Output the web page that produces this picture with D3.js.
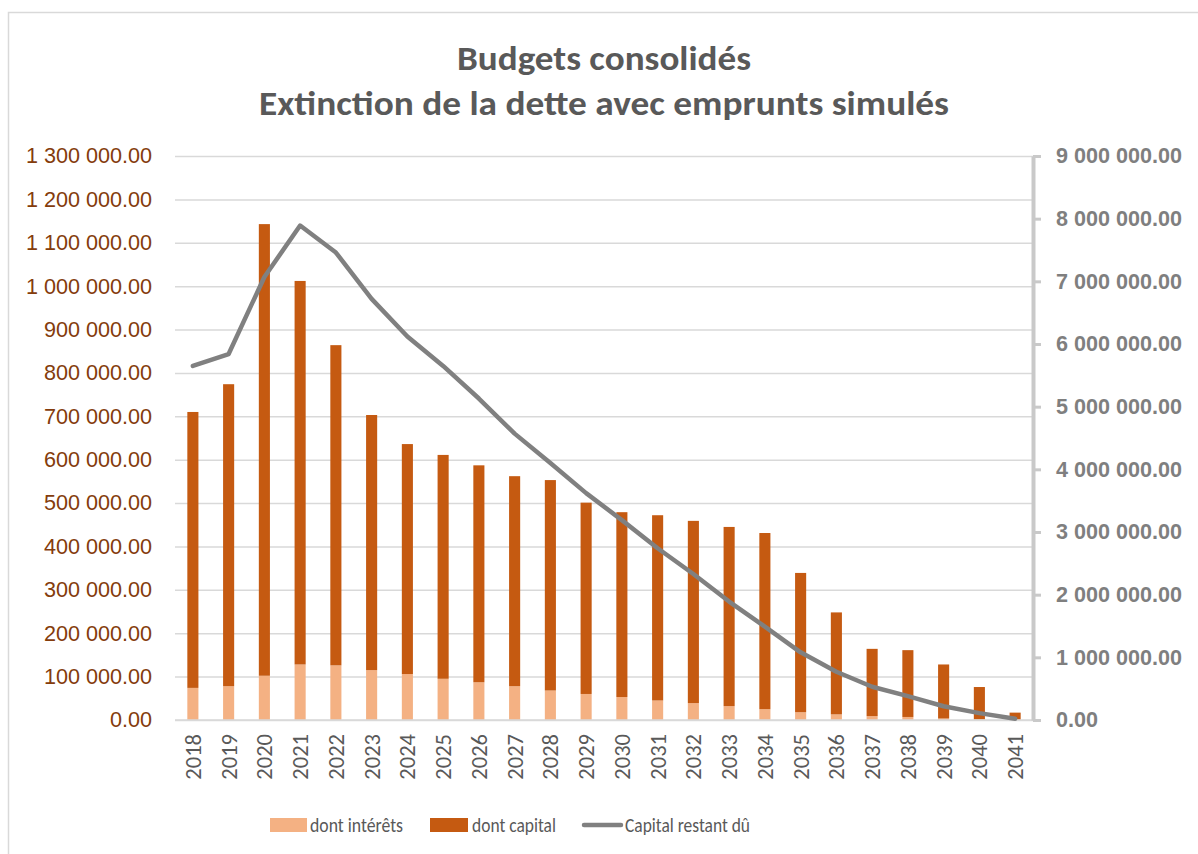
<!DOCTYPE html>
<html lang="fr">
<head>
<meta charset="utf-8">
<script src="https://cdn.jsdelivr.net/npm/d3@7"></script>
<style>
  html, body { margin: 0; padding: 0; background: #fff; }
  svg { display: block; font-family: Carlito, Lato, "Open Sans", sans-serif; }
</style>
</head>
<body>
<svg id="chart" width="1198" height="854"></svg>
<script>
// données
const years = ["2018", "2019", "2020", "2021", "2022", "2023", "2024", "2025", "2026", "2027", "2028", "2029",
  "2030", "2031", "2032", "2033", "2034", "2035", "2036", "2037", "2038", "2039", "2040", "2041"];

const interets = [74000, 78000, 102000, 128000, 126000, 115000, 106000, 95000, 87000, 78000, 68000, 60000,
  53000, 45000, 39000, 32000, 25000, 18000, 13000, 9000, 7000, 3500, 1500, 500];

const capital = [636000, 696000, 1041000, 884000, 738000, 588000, 530000, 516000, 500000, 484000, 485000, 441000,
  426000, 427000, 420000, 413000, 406000, 321000, 235000, 155000, 154000, 124500, 74500, 16500];

const restantDu = [5650000, 5840000, 7070000, 7890000, 7460000, 6720000, 6120000, 5650000, 5130000, 4570000, 4100000, 3620000,
  3190000, 2740000, 2330000, 1890000, 1490000, 1080000, 770000, 530000, 380000, 220000, 110000, 20000];

const leftTicks = d3.range(0, 1300001, 100000);
const rightTicks = d3.range(0, 9000001, 1000000);

const titleLines = ["Budgets consolidés", "Extinction de la dette avec emprunts simulés"];
const legendLabels = ["dont intérêts", "dont capital", "Capital restant dû"];

const colInteret = "#F4B183";
const colCapital = "#C55A11";
const colLine = "#808080";

const svg = d3.select("#chart");
const plotL = 175, plotR = 1033, plotT = 156, plotB = 720;

// cadre
svg.append("rect")
  .attr("x", 8.5).attr("y", 12.5)
  .attr("width", 1300).attr("height", 1000)
  .attr("fill", "none").attr("stroke", "#d9d9d9").attr("stroke-width", 1.5);

// titre (largeur calée sur l'original)
const titleWidths = [294, 690];
svg.append("g").selectAll("text")
  .data(titleLines)
  .join("text")
  .attr("x", (plotL + plotR) / 2)
  .attr("y", (d, i) => 70 + i * 45)
  .attr("text-anchor", "middle")
  .attr("font-size", 34)
  .attr("font-weight", "bold")
  .attr("fill", "#595959")
  .attr("textLength", (d, i) => titleWidths[i])
  .attr("lengthAdjust", "spacingAndGlyphs")
  .text((d) => d);

const fr = d3.formatLocale({ decimal: ".", thousands: " ", grouping: [3], currency: ["", ""] });
const fmt = fr.format(",.2f");

const x = d3.scaleBand().domain(years).range([plotL, plotR]).paddingInner(0.69).paddingOuter(0.345);
const yL = d3.scaleLinear().domain([0, 1300000]).range([plotB, plotT]);
const yR = d3.scaleLinear().domain([0, 9000000]).range([plotB, plotT]);

// grille
svg.append("g")
  .attr("transform", `translate(${plotL},0)`)
  .call(d3.axisLeft(yL).tickValues(leftTicks).tickSize(-(plotR - plotL)).tickFormat(""))
  .call((g) => g.select(".domain").remove())
  .call((g) => g.selectAll("line").attr("stroke", "#d9d9d9").attr("stroke-width", 1.5));

// axe gauche
svg.append("g")
  .attr("transform", `translate(${plotL},0)`)
  .call(d3.axisLeft(yL).tickValues(leftTicks).tickSize(0).tickPadding(23).tickFormat(fmt))
  .call((g) => g.select(".domain").remove())
  .call((g) => g.selectAll("text")
    .attr("font-size", 21.6).attr("fill", "#843C0C").attr("font-family", null));

// barres empilées
const stacked = years.map((yr, i) => ({ year: yr, interet: interets[i], capital: capital[i] }));
const series = d3.stack().keys(["interet", "capital"])(stacked);

svg.append("g").selectAll("g")
  .data(series)
  .join("g")
  .attr("fill", (d) => (d.key === "interet" ? colInteret : colCapital))
  .selectAll("rect")
  .data((d) => d)
  .join("rect")
  .attr("x", (d) => x(d.data.year))
  .attr("width", x.bandwidth())
  .attr("y", (d) => yL(d[1]))
  .attr("height", (d) => yL(d[0]) - yL(d[1]));

// axe bas
svg.append("line")
  .attr("x1", plotL).attr("x2", plotR)
  .attr("y1", plotB).attr("y2", plotB)
  .attr("stroke", "#d9d9d9").attr("stroke-width", 1.5);

svg.append("g").selectAll("text")
  .data(years)
  .join("text")
  .attr("transform", (d) => `translate(${x(d) + x.bandwidth() / 2},734) rotate(-90)`)
  .attr("text-anchor", "end")
  .attr("dy", "0.35em")
  .attr("font-size", 22.5)
  .attr("fill", "#595959")
  .text((d) => d);

// courbe capital restant dû
const line = d3.line()
  .x((d, i) => x(years[i]) + x.bandwidth() / 2)
  .y((d) => yR(d));

svg.append("path")
  .datum(restantDu)
  .attr("d", line)
  .attr("fill", "none")
  .attr("stroke", colLine)
  .attr("stroke-width", 4.5)
  .attr("stroke-linejoin", "round")
  .attr("stroke-linecap", "round");

// axe droit
svg.append("g")
  .attr("transform", `translate(${plotR},0)`)
  .call(d3.axisRight(yR).tickValues(rightTicks).tickSize(8).tickSizeOuter(0).tickPadding(15).tickFormat(fmt))
  .call((g) => g.select(".domain").attr("stroke", "#c9c9c9").attr("stroke-width", 4))
  .call((g) => g.selectAll(".tick line").attr("stroke", "#c9c9c9").attr("stroke-width", 3))
  .call((g) => g.selectAll("text")
    .attr("font-size", 21.6).attr("font-weight", "bold").attr("fill", "#7f7f7f").attr("font-family", null));

// légende
const legend = svg.append("g");
const ly = 825;
legend.append("rect").attr("x", 270).attr("y", ly - 7).attr("width", 37).attr("height", 14).attr("fill", colInteret);
legend.append("rect").attr("x", 430).attr("y", ly - 7).attr("width", 38).attr("height", 14).attr("fill", colCapital);
legend.append("line")
  .attr("x1", 584).attr("x2", 621).attr("y1", ly).attr("y2", ly)
  .attr("stroke", colLine).attr("stroke-width", 4.5).attr("stroke-linecap", "round");

const legendWidths = [93, 84, 125];
legend.selectAll("text")
  .data(legendLabels)
  .join("text")
  .attr("x", (d, i) => [310, 472, 625][i])
  .attr("y", ly)
  .attr("dy", "0.35em")
  .attr("font-size", 20)
  .attr("fill", "#595959")
  .attr("textLength", (d, i) => legendWidths[i])
  .attr("lengthAdjust", "spacingAndGlyphs")
  .text((d) => d);
</script>
</body>
</html>
